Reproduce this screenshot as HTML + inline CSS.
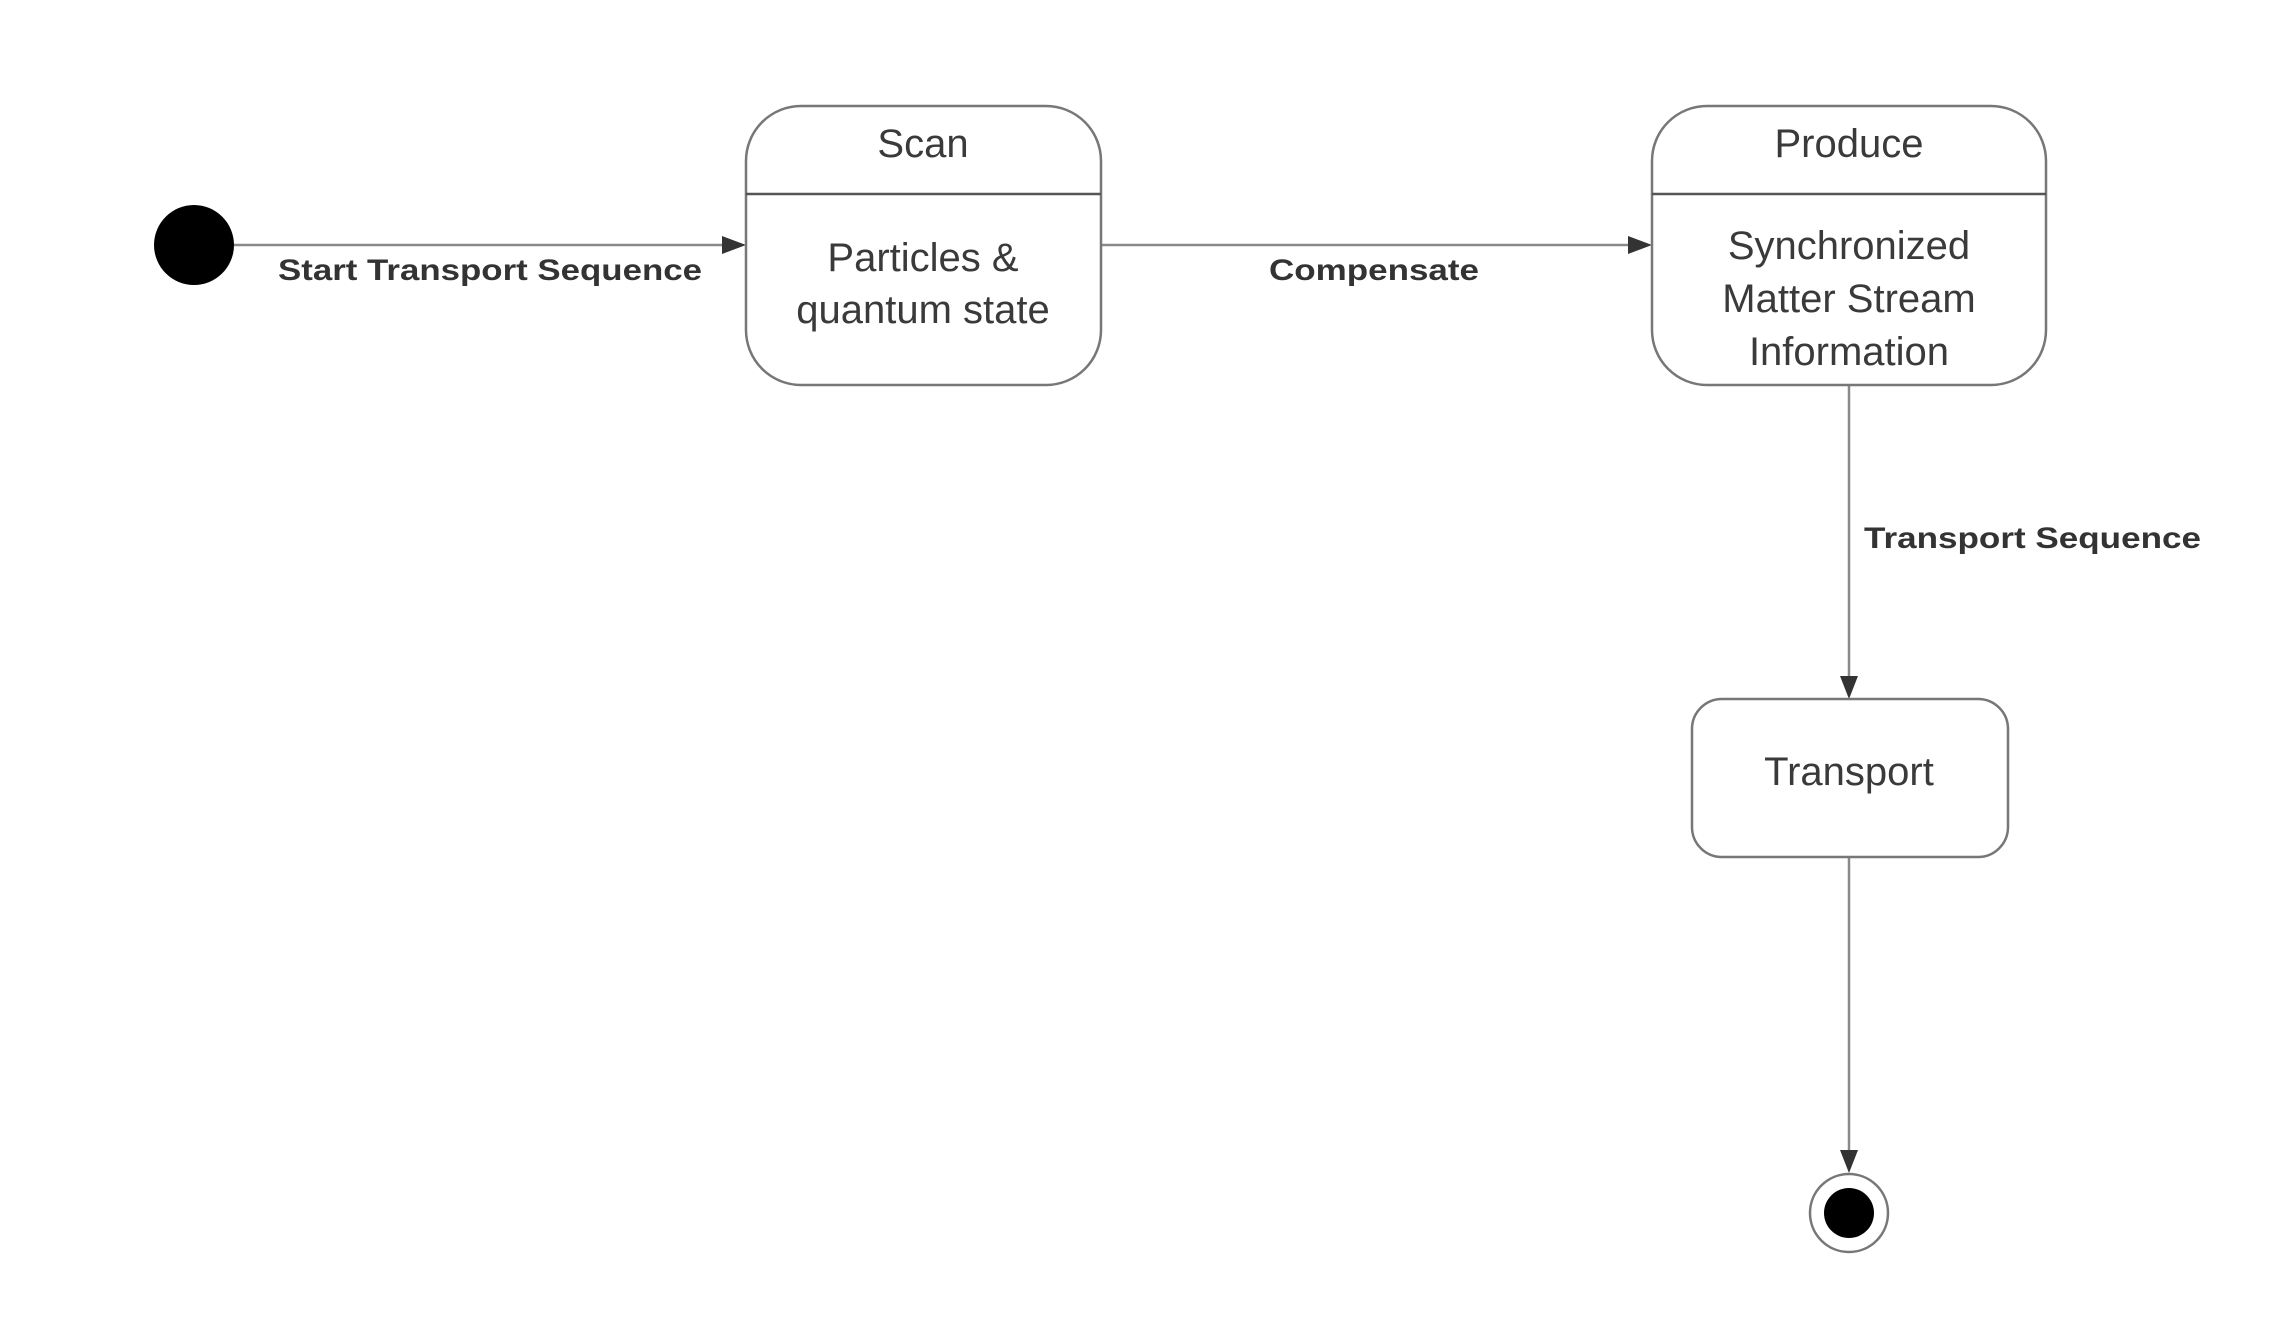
<!DOCTYPE html>
<html><head><meta charset="utf-8"><style>html,body{margin:0;padding:0;background:#fff}svg{display:block}</style></head>
<body>
<svg width="2293" height="1320" viewBox="0 0 2293 1320" xmlns="http://www.w3.org/2000/svg" font-family="'Liberation Sans', sans-serif">
<rect width="2293" height="1320" fill="#fff"/>
<g stroke="#8a8a8a" stroke-width="2.5" fill="none">
<line x1="232" y1="245" x2="724" y2="245"/>
<line x1="1101" y1="245" x2="1631" y2="245"/>
<line x1="1849" y1="385" x2="1849" y2="678"/>
<line x1="1849" y1="857" x2="1849" y2="1152"/>
</g>
<g fill="#333">
<polygon points="746,245 722,236 722,254"/>
<polygon points="1652,245 1628,236 1628,254"/>
<polygon points="1849,699 1840,676 1858,676"/>
<polygon points="1849,1173 1840,1150 1858,1150"/>
</g>
<circle cx="194" cy="245" r="40" fill="#000"/>
<circle cx="1849" cy="1213" r="39" fill="#fff" stroke="#777" stroke-width="2.5"/>
<circle cx="1849" cy="1213" r="25" fill="#000"/>
<g fill="#fff" stroke="#777" stroke-width="2.5">
<rect x="746" y="106" width="355" height="279" rx="55"/>
<rect x="1652" y="106" width="394" height="279" rx="55"/>
<rect x="1692" y="699" width="316" height="158" rx="30"/>
</g>
<g stroke="#555" stroke-width="2.5">
<line x1="746" y1="194" x2="1101" y2="194"/>
<line x1="1652" y1="194" x2="2046" y2="194"/>
</g>
<g fill="#3a3a3a" font-size="40" text-anchor="middle">
<text x="923" y="157">Scan</text>
<text x="923" y="271">Particles &amp;</text>
<text x="923" y="323">quantum state</text>
<text x="1849" y="157">Produce</text>
<text x="1849" y="259">Synchronized</text>
<text x="1849" y="312">Matter Stream</text>
<text x="1849" y="365">Information</text>
<text x="1849" y="785">Transport</text>
</g>
<g fill="#333" font-size="30" font-weight="bold">
<text x="278" y="280" textLength="424" lengthAdjust="spacingAndGlyphs">Start Transport Sequence</text>
<text x="1269" y="280" textLength="210" lengthAdjust="spacingAndGlyphs">Compensate</text>
<text x="1864" y="548" textLength="337" lengthAdjust="spacingAndGlyphs">Transport Sequence</text>
</g>
</svg>
</body></html>
